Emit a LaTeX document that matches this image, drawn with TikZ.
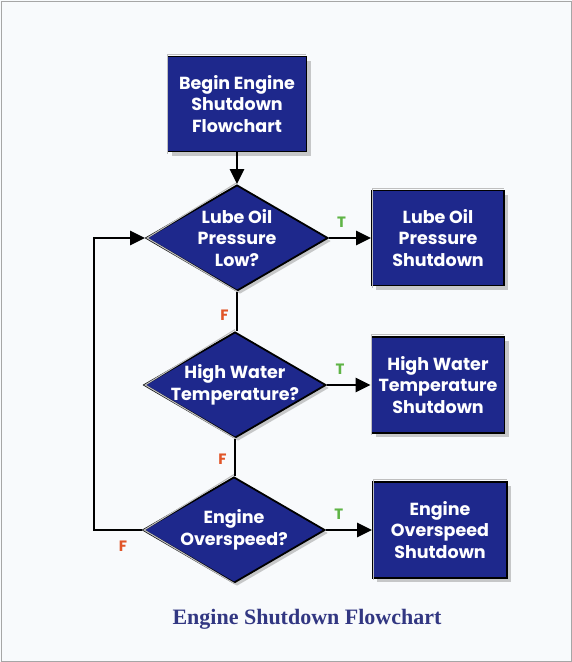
\documentclass[tikz,border=0pt]{standalone}
\usepackage{fontspec}
\setmainfont{Liberation Serif}
\newfontfamily\boxfont{Poppins}
\usetikzlibrary{shapes.geometric,arrows.meta,shadows}
\definecolor{boxblue}{RGB}{30,40,140}
\definecolor{truegreen}{RGB}{95,180,70}
\definecolor{falsered}{RGB}{225,85,40}
\definecolor{capblue}{RGB}{50,55,130}
\definecolor{paper}{RGB}{248,250,252}
\tikzset{
  stepbox/.style={rectangle,fill=boxblue,draw=black,line width=1.8pt,text=white,align=center,
    font=\boxfont\bfseries\fontsize{17.5}{21.5}\selectfont,inner sep=0pt,
    drop shadow={shadow xshift=4pt,shadow yshift=-4pt,fill=black!35,opacity=.6}},
  decision/.style={diamond,fill=boxblue,draw=black,line width=1.8pt,text=white,align=center,
    font=\boxfont\bfseries\fontsize{17.5}{21.5}\selectfont,inner sep=-25pt,shape aspect=1.63,
    minimum width=182pt,minimum height=106pt,
    drop shadow={shadow xshift=3pt,shadow yshift=-3pt,fill=black!35,opacity=.6}},
  bevel/.style={draw=black!25,line width=1.1pt},
  flow/.style={line width=2.4pt,-{Triangle[length=15pt,width=14pt]}},
  link/.style={line width=2.4pt},
  tlabel/.style={text=truegreen,font=\boxfont\bfseries\fontsize{15}{15}\selectfont},
  flabel/.style={text=falsered,font=\boxfont\bfseries\fontsize{15}{15}\selectfont}
}
\begin{document}
\begin{tikzpicture}[x=1pt,y=-1pt,line join=miter]
  \useasboundingbox (0,0) rectangle (572,662);
  \fill[paper] (0,0) rectangle (572,662);
  \draw[black!35,line width=.8pt] (1,1) rectangle (571,661);
  % boxes and decisions
  \node[stepbox,minimum width=139pt,minimum height=95pt] (start) at (237,104) {Begin Engine\\Shutdown\\Flowchart};
  \node[decision] (lube) at (237,238) {Lube Oil\\Pressure\\Low?};
  \node[decision] (water) at (235,385) {High Water\\Temperature?};
  \node[decision] (speed) at (234,530) {Engine\\Overspeed?};
  \node[stepbox,minimum width=132pt,minimum height=95pt] (lubeoff) at (438,238) {Lube Oil\\Pressure\\Shutdown};
  \node[stepbox,minimum width=133pt,minimum height=96pt] (wateroff) at (438,385) {High Water\\Temperature\\Shutdown};
  \node[stepbox,minimum width=134pt,minimum height=96pt] (speedoff) at (440,530) {Engine\\Overspeed\\Shutdown};
  \coordinate (loop) at (94,530);
  % light top-left edges
  \foreach \n in {start,lubeoff,wateroff,speedoff}
    \draw[bevel] ([shift={(1.2pt,-1.2pt)}]\n.south west) -- ([shift={(1.2pt,1.2pt)}]\n.north west) -- ([shift={(-1.2pt,1.2pt)}]\n.north east);
  \foreach \n in {lube,water,speed}
    \draw[bevel] ([xshift=1pt]\n.south) -- ([xshift=2pt]\n.west) -- ([yshift=1.5pt]\n.north);
  % connectors
  \draw[flow] (start) -- (lube);
  \draw[flow] (lube.east) -- (lubeoff.west) node[tlabel,pos=.3,above=6pt] (t1) {T};
  \draw[flow] (water.east) -- (wateroff.west) node[tlabel,pos=.3,above=6pt] (t2) {T};
  \draw[flow] (speed.east) -- (speedoff.west) node[tlabel,pos=.28,above=6pt] (t3) {T};
  \draw[link] (lube.south) -- (lube.south |- water.north) node[flabel,pos=.6,left=4pt] (f1) {F};
  \draw[link] (water.south) -- (water.south |- speed.north) node[flabel,pos=.55,left=4pt] (f2) {F};
  \draw[flow] (speed.west) -- (loop) |- (lube.west);
  \node[flabel] (f3) at (123,546) {F};
  % caption
  \node[text=capblue,font=\bfseries\fontsize{22}{24}\selectfont] (caption) at (307,619) {Engine Shutdown Flowchart};
\end{tikzpicture}
\end{document}
